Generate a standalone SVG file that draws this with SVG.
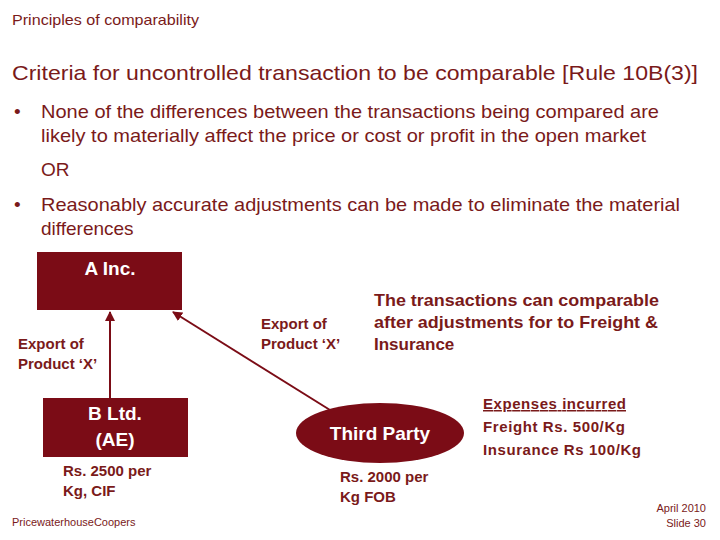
<svg xmlns="http://www.w3.org/2000/svg" width="720" height="540" viewBox="0 0 720 540">
<defs>
<style>
text{font-family:"Liberation Sans",Arial,sans-serif}
.t{fill:#7a1a1a}
.b{fill:#7a1a1a;font-size:19px}
.lab{fill:#7a1a1a;font-size:15px;font-weight:bold}
.big{font-size:17px}
.node{fill:#7b0c16}
.nt{fill:#fff;font-size:19px;font-weight:bold;text-anchor:middle}
.c{stroke:#7b0c16;stroke-width:2;fill:none;marker-end:url(#ah)}
</style>
<marker id="ah" viewBox="0 0 10 10" refX="9" refY="5" markerWidth="5" markerHeight="5" orient="auto"><path d="M0,0L10,5L0,10z" fill="#7b0c16"/></marker>
</defs>
<rect width="720" height="540" fill="#fff"/>
<text x="12" y="25" class="t" font-size="15" textLength="187" lengthAdjust="spacingAndGlyphs">Principles of comparability</text>
<text x="12" y="80" class="t" font-size="21" textLength="686" lengthAdjust="spacingAndGlyphs">Criteria for uncontrolled transaction to be comparable [Rule 10B(3)]</text>
<text x="14" y="118" class="b">•</text>
<text x="41" y="118" class="b" textLength="618" lengthAdjust="spacingAndGlyphs">None of the differences between the transactions being compared are</text>
<text x="41" y="142" class="b" textLength="605" lengthAdjust="spacingAndGlyphs">likely to materially affect the price or cost or profit in the open market</text>
<text x="41" y="176" class="b">OR</text>
<text x="14" y="211" class="b">•</text>
<text x="41" y="211" class="b" textLength="639" lengthAdjust="spacingAndGlyphs">Reasonably accurate adjustments can be made to eliminate the material</text>
<text x="41" y="235" class="b">differences</text>
<g id="connectors">
<line x1="110" y1="398" x2="110" y2="312" class="c"/>
<line x1="330" y1="410" x2="173" y2="312" class="c"/>
</g>
<g id="a-inc"><rect x="37" y="252" width="145" height="58" class="node"/><text x="110" y="275" class="nt">A Inc.</text></g>
<g id="b-ltd"><rect x="43" y="398" width="145" height="59" class="node"/><text x="115" y="420" class="nt">B Ltd.</text><text x="115" y="446" class="nt">(AE)</text></g>
<g id="third-party"><ellipse cx="380" cy="433" rx="84" ry="30" class="node"/><text x="380" y="440" class="nt">Third Party</text></g>
<text x="18" y="349" class="lab">Export  of</text>
<text x="18" y="369" class="lab">Product ‘X’</text>
<text x="261" y="329" class="lab">Export of</text>
<text x="261" y="349" class="lab">Product ‘X’</text>
<text x="374" y="306" class="lab big" textLength="285" lengthAdjust="spacingAndGlyphs">The transactions can comparable</text>
<text x="374" y="328" class="lab big" textLength="284" lengthAdjust="spacingAndGlyphs">after adjustments for to Freight &amp;</text>
<text x="374" y="350" class="lab big">Insurance</text>
<text x="483" y="409" class="lab" text-decoration="underline" textLength="143">Expenses incurred</text>
<text x="483" y="432" class="lab" textLength="142">Freight Rs. 500/Kg</text>
<text x="483" y="455" class="lab" textLength="158">Insurance Rs 100/Kg</text>
<text x="63" y="476" class="lab">Rs. 2500 per</text>
<text x="63" y="496" class="lab">Kg, CIF</text>
<text x="340" y="482" class="lab">Rs. 2000 per</text>
<text x="340" y="502" class="lab">Kg FOB</text>
<text x="12" y="526" class="t" font-size="11">PricewaterhouseCoopers</text>
<text x="706" y="512" class="t" font-size="11" text-anchor="end">April 2010</text>
<text x="706" y="527" class="t" font-size="11" text-anchor="end">Slide 30</text>
</svg>
